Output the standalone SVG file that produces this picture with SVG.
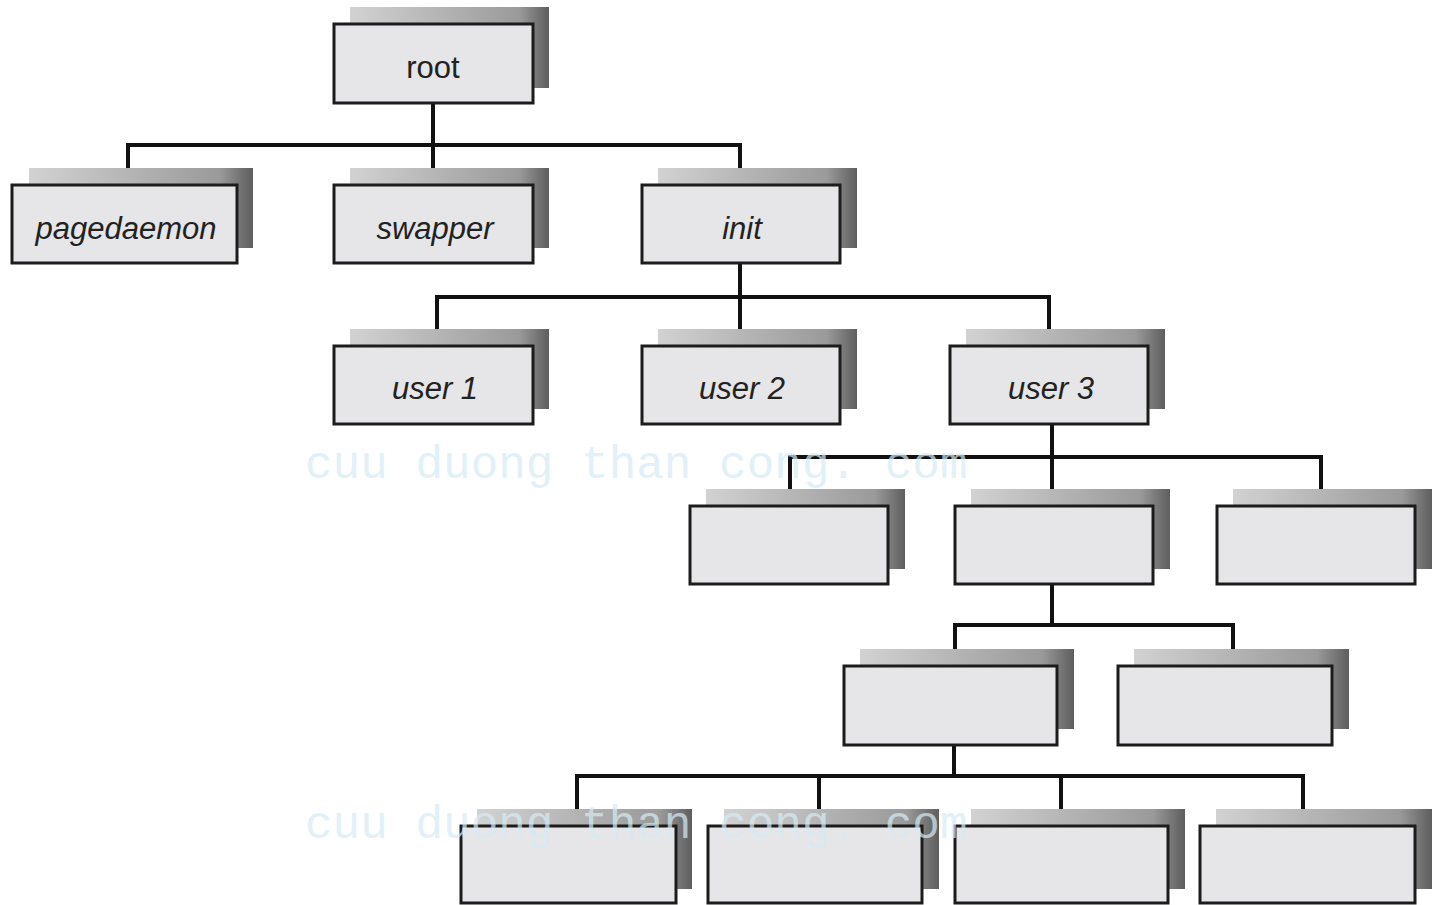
<svg xmlns="http://www.w3.org/2000/svg" width="1432" height="905" viewBox="0 0 1432 905">
<defs>
<linearGradient id="sh" x1="0" y1="0" x2="1" y2="0">
<stop offset="0" stop-color="#d2d2d2"/>
<stop offset="0.85" stop-color="#9a9a9a"/>
<stop offset="1" stop-color="#5e5e5e"/>
</linearGradient>
<style>
.shadow{fill:url(#sh);}
.box{fill:#e6e5e7;stroke:#1c1c1c;stroke-width:3;}
.lbl{font-family:"Liberation Sans",Arial,sans-serif;font-size:31px;fill:#222;text-anchor:middle;font-style:italic;}
.up{font-style:normal;}
.conn{fill:none;stroke:#111;stroke-width:4;stroke-linecap:square;}
.wm{font-family:"Liberation Mono","DejaVu Sans Mono",monospace;font-size:46px;fill:#d6ecf6;opacity:0.7;}
</style>
</defs>
<rect width="1432" height="905" fill="#ffffff"/>
<g id="connectors">
<path class="conn" d="M433 103V145M128 145H740M128 145V185M433 145V185M740 145V185"/>
<path class="conn" d="M740 264V297M437 297H1049M437 297V345M740 297V345M1049 297V345"/>
<path class="conn" d="M1052 424V457M790 457H1321M790 457V505M1052 457V505M1321 457V505"/>
<path class="conn" d="M1052 584V625M955 625H1233M955 625V665M1233 625V665"/>
<path class="conn" d="M954 745V776M577 776H1303M577 776V825M819 776V825M1061 776V825M1303 776V825"/>
</g>
<g id="root"><rect class="shadow" x="350" y="7" width="199" height="81"/><rect class="box" x="334" y="24" width="199" height="79"/><text class="lbl up" x="433" y="78">root</text></g>
<g id="pagedaemon"><rect class="shadow" x="29" y="168" width="224" height="80"/><rect class="box" x="12" y="185" width="225" height="78"/><text class="lbl" x="126" y="239">pagedaemon</text></g>
<g id="swapper"><rect class="shadow" x="350" y="168" width="199" height="80"/><rect class="box" x="334" y="185" width="199" height="78"/><text class="lbl" x="435" y="239">swapper</text></g>
<g id="init"><rect class="shadow" x="658" y="168" width="199" height="80"/><rect class="box" x="642" y="185" width="198" height="78"/><text class="lbl" x="742" y="239">init</text></g>
<g id="user1"><rect class="shadow" x="350" y="329" width="199" height="80"/><rect class="box" x="334" y="346" width="199" height="78"/><text class="lbl" x="435" y="399">user 1</text></g>
<g id="user2"><rect class="shadow" x="658" y="329" width="199" height="80"/><rect class="box" x="642" y="346" width="198" height="78"/><text class="lbl" x="742" y="399">user 2</text></g>
<g id="user3"><rect class="shadow" x="966" y="329" width="199" height="80"/><rect class="box" x="950" y="346" width="198" height="78"/><text class="lbl" x="1051" y="399">user 3</text></g>
<g id="n31"><rect class="shadow" x="706" y="489" width="199" height="80"/><rect class="box" x="690" y="506" width="198" height="78"/></g>
<g id="n32"><rect class="shadow" x="971" y="489" width="199" height="80"/><rect class="box" x="955" y="506" width="198" height="78"/></g>
<g id="n33"><rect class="shadow" x="1233" y="489" width="199" height="80"/><rect class="box" x="1217" y="506" width="198" height="78"/></g>
<g id="n41"><rect class="shadow" x="860" y="649" width="214" height="80"/><rect class="box" x="844" y="666" width="213" height="79"/></g>
<g id="n42"><rect class="shadow" x="1134" y="649" width="215" height="80"/><rect class="box" x="1118" y="666" width="214" height="79"/></g>
<g id="n51"><rect class="shadow" x="477" y="809" width="215" height="80"/><rect class="box" x="461" y="826" width="215" height="77"/></g>
<g id="n52"><rect class="shadow" x="724" y="809" width="215" height="80"/><rect class="box" x="708" y="826" width="214" height="77"/></g>
<g id="n53"><rect class="shadow" x="971" y="809" width="214" height="80"/><rect class="box" x="955" y="826" width="213" height="77"/></g>
<g id="n54"><rect class="shadow" x="1216" y="809" width="216" height="80"/><rect class="box" x="1200" y="826" width="215" height="77"/></g>
<g id="watermark">
<text class="wm" x="305" y="478">cuu duong than cong. com</text>
<text class="wm" x="305" y="838">cuu duong than cong. com</text>
</g>
</svg>
